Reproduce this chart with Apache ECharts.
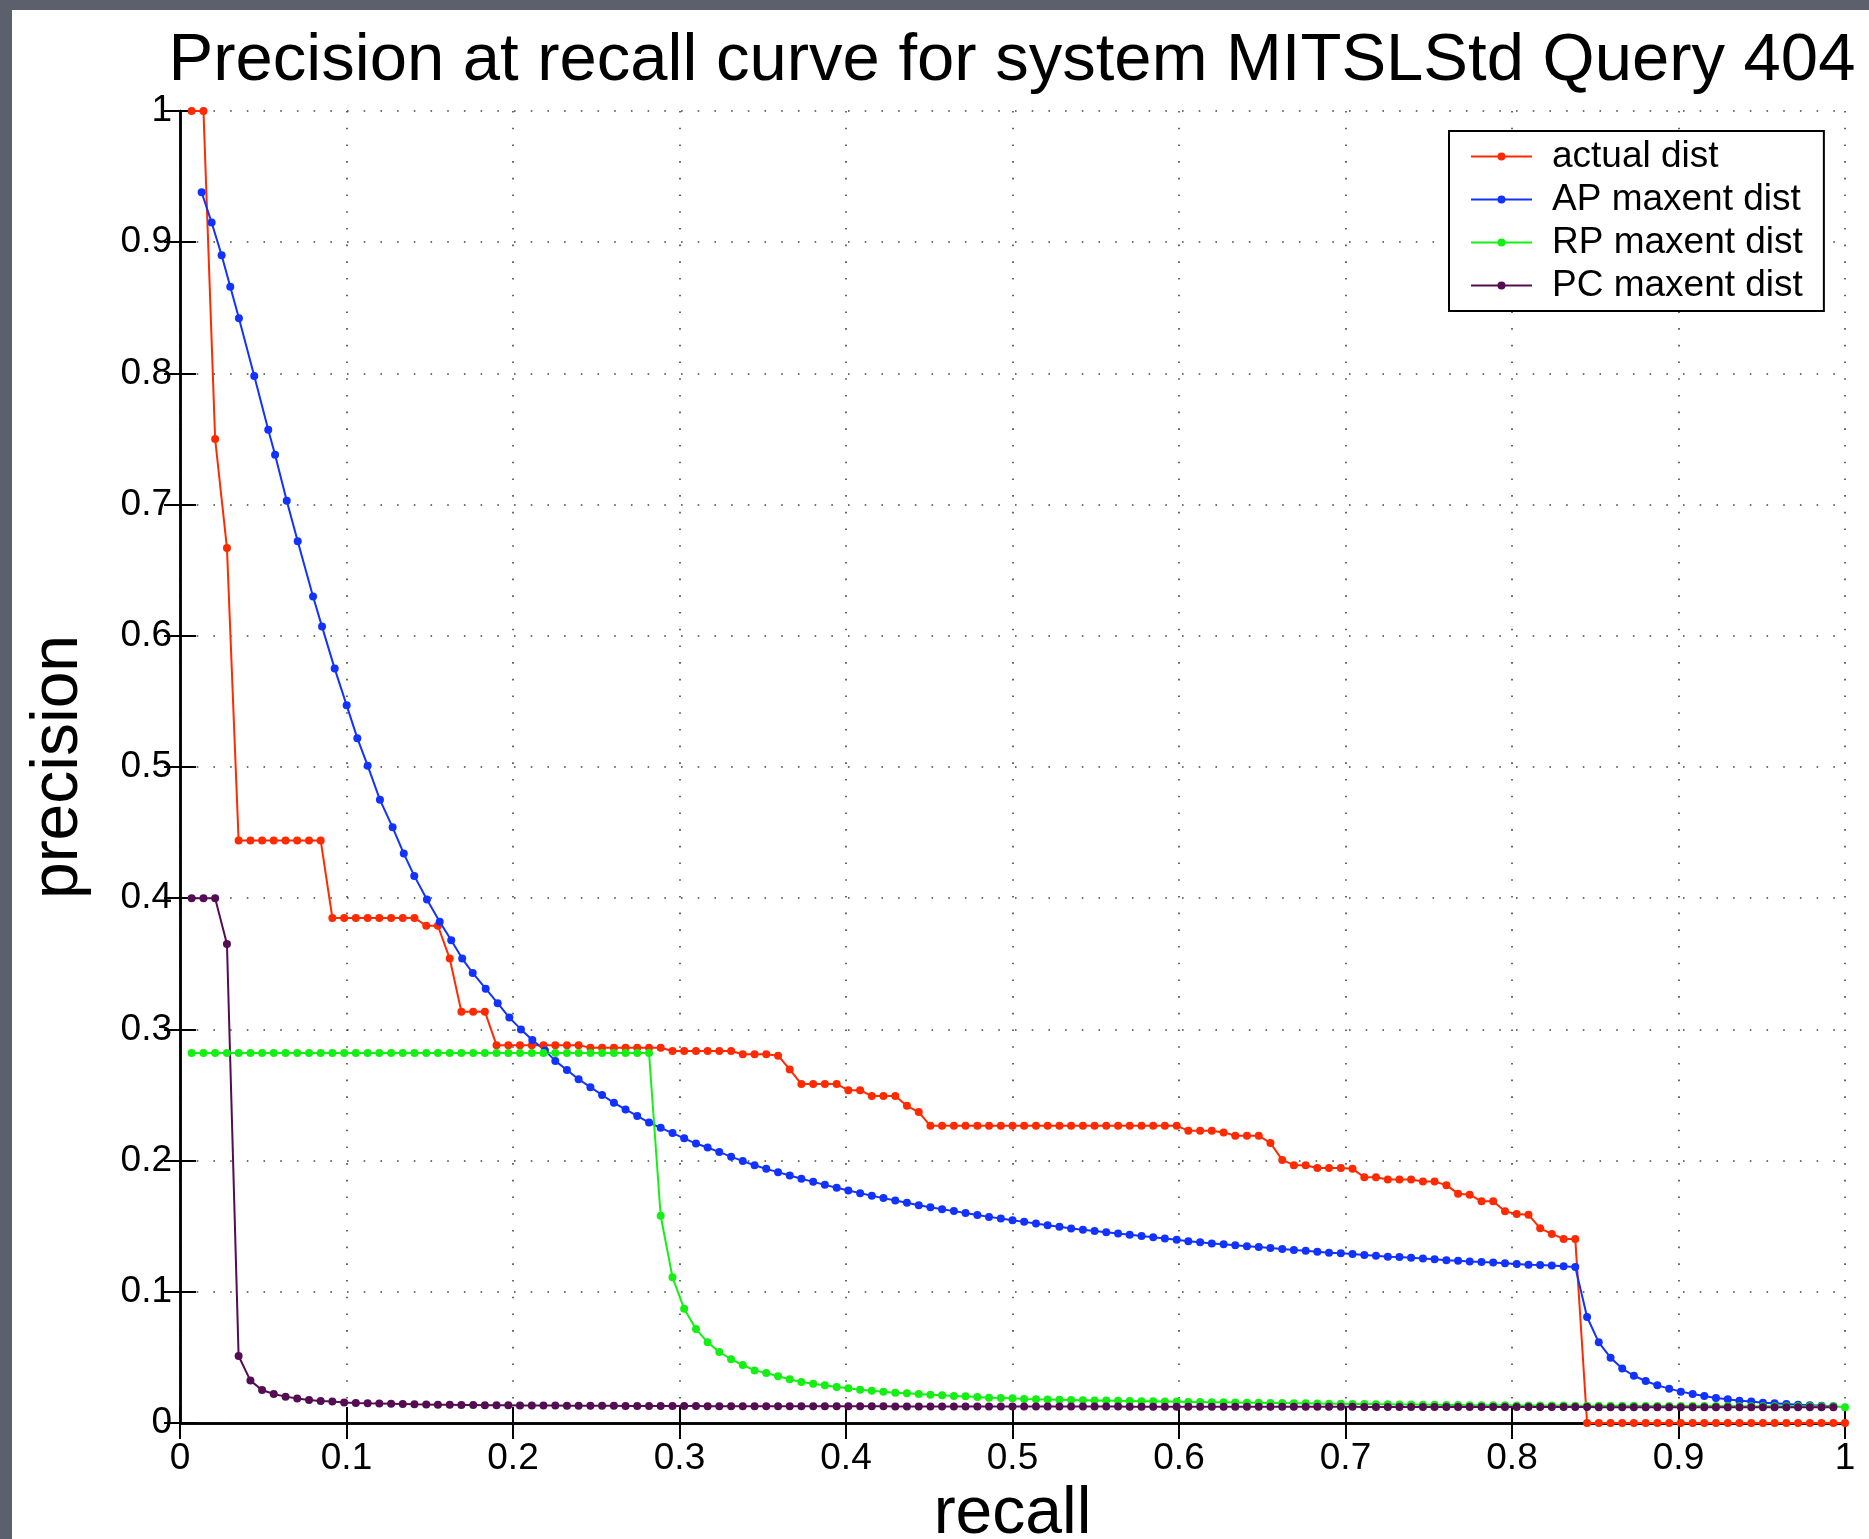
<!DOCTYPE html>
<html>
<head>
<meta charset="utf-8">
<script src="https://cdn.jsdelivr.net/npm/echarts@6/dist/echarts.min.js"></script>
<style>
  html, body { margin: 0; padding: 0; background: #5c606c; }
  #panel { position: absolute; left: 12px; top: 10px; right: 0; bottom: 0; background: #fff; }
  #main { position: absolute; left: 0; top: 0; width: 1869px; height: 1539px; }
</style>
</head>
<body>
<div id="panel"></div>
<div id="main"></div>
<script>
var FONT = "'Liberation Sans', Arial, Helvetica, sans-serif";

// recall levels (k / 142 relevant docs)
var recall = [
  0.0070, 0.0141, 0.0211, 0.0282, 0.0352, 0.0423, 0.0493, 0.0563, 0.0634, 0.0704,
  0.0775, 0.0845, 0.0915, 0.0986, 0.1056, 0.1127, 0.1197, 0.1268, 0.1338, 0.1408,
  0.1479, 0.1549, 0.1620, 0.1690, 0.1761, 0.1831, 0.1901, 0.1972, 0.2042, 0.2113,
  0.2183, 0.2254, 0.2324, 0.2394, 0.2465, 0.2535, 0.2606, 0.2676, 0.2746, 0.2817,
  0.2887, 0.2958, 0.3028, 0.3099, 0.3169, 0.3239, 0.3310, 0.3380, 0.3451, 0.3521,
  0.3592, 0.3662, 0.3732, 0.3803, 0.3873, 0.3944, 0.4014, 0.4085, 0.4155, 0.4225,
  0.4296, 0.4366, 0.4437, 0.4507, 0.4577, 0.4648, 0.4718, 0.4789, 0.4859, 0.4930,
  0.5000, 0.5070, 0.5141, 0.5211, 0.5282, 0.5352, 0.5423, 0.5493, 0.5563, 0.5634,
  0.5704, 0.5775, 0.5845, 0.5915, 0.5986, 0.6056, 0.6127, 0.6197, 0.6268, 0.6338,
  0.6408, 0.6479, 0.6549, 0.6620, 0.6690, 0.6761, 0.6831, 0.6901, 0.6972, 0.7042,
  0.7113, 0.7183, 0.7254, 0.7324, 0.7394, 0.7465, 0.7535, 0.7606, 0.7676, 0.7746,
  0.7817, 0.7887, 0.7958, 0.8028, 0.8099, 0.8169, 0.8239, 0.8310, 0.8380, 0.8451,
  0.8521, 0.8592, 0.8662, 0.8732, 0.8803, 0.8873, 0.8944, 0.9014, 0.9085, 0.9155,
  0.9225, 0.9296, 0.9366, 0.9437, 0.9507, 0.9577, 0.9648, 0.9718, 0.9789, 0.9859,
  0.9930, 1.0000
];

var actualDist = [
  1, 1, 0.75, 0.667,
  0.444, 0.444, 0.444, 0.444, 0.444, 0.444, 0.444, 0.444,
  0.385, 0.385, 0.385, 0.385, 0.385, 0.385, 0.385, 0.385,
  0.379, 0.379, 0.354, 0.3135, 0.3135, 0.3135,
  0.288, 0.288, 0.288, 0.288, 0.288, 0.288, 0.288, 0.288,
  0.286, 0.286, 0.286, 0.286, 0.286, 0.286, 0.286,
  0.2835, 0.2835, 0.2835, 0.2835, 0.2835, 0.2835,
  0.281, 0.281, 0.281, 0.280, 0.2695,
  0.2583, 0.2583, 0.2583, 0.2583, 0.2537, 0.2537,
  0.2492, 0.2492, 0.2492, 0.2418, 0.237,
  0.2265, 0.2265, 0.2265, 0.2265, 0.2265, 0.2265, 0.2265, 0.2265, 0.2265, 0.2265, 0.2265,
  0.2265, 0.2265, 0.2265, 0.2265, 0.2265, 0.2265, 0.2265, 0.2265, 0.2265, 0.2265, 0.2265,
  0.2228, 0.2228, 0.2228, 0.2215, 0.219, 0.219, 0.219, 0.2134, 0.2005,
  0.1965, 0.1965, 0.1944, 0.1944, 0.1944, 0.1937, 0.1873, 0.1873,
  0.1856, 0.1856, 0.1856, 0.184, 0.184, 0.1813, 0.1748, 0.174, 0.169, 0.169,
  0.1614, 0.1593, 0.1588, 0.1484, 0.1441, 0.1403, 0.1403,
  0, 0, 0, 0, 0, 0, 0, 0, 0, 0, 0, 0, 0, 0, 0, 0, 0, 0, 0, 0, 0, 0, 0
];

// AP maxent points: the first ones sit off the recall grid
var apRecallHead = [
  0.0130, 0.0190, 0.0250, 0.0302, 0.0354, 0.0446, 0.0530, 0.0571, 0.0641, 0.0707,
  0.0799, 0.0853, 0.0929, 0.1001, 0.1065, 0.1127, 0.1201, 0.1277, 0.1344, 0.1407,
  0.1483, 0.1560, 0.1629, 0.1695, 0.1758, 0.1836, 0.1908, 0.1978, 0.2048, 0.2116,
  0.2192
];
var apMaxent = [
  0.938, 0.915, 0.890, 0.866, 0.842, 0.798, 0.757, 0.738, 0.703, 0.672,
  0.630, 0.607, 0.575, 0.547, 0.522, 0.501, 0.475, 0.454, 0.434, 0.417,
  0.399, 0.382, 0.368, 0.354, 0.343, 0.331, 0.320, 0.309, 0.300, 0.292,
  0.284,
  0.276, 0.269, 0.262, 0.256, 0.250, 0.244, 0.239, 0.234, 0.229,
  0.225, 0.221, 0.217, 0.213, 0.210, 0.2065, 0.203, 0.1996, 0.1965, 0.1937,
  0.1912, 0.1886, 0.1861, 0.1838, 0.1815, 0.1793, 0.1772, 0.1752, 0.1732, 0.1714,
  0.1696, 0.1678, 0.166, 0.1645, 0.163, 0.1615, 0.16, 0.1585, 0.1571, 0.1558,
  0.1545, 0.1533, 0.1521, 0.1508, 0.1496, 0.1483, 0.1473, 0.1463, 0.1453, 0.1445,
  0.1435, 0.1425, 0.1415, 0.1407, 0.1397, 0.1386, 0.1377, 0.1369, 0.1362, 0.1354,
  0.1348, 0.1341, 0.1334, 0.1326, 0.1318, 0.1313, 0.1306, 0.1298, 0.1293, 0.1288,
  0.128, 0.1274, 0.1268, 0.1265, 0.1259, 0.1253, 0.1248, 0.1241, 0.1236, 0.1231,
  0.1227, 0.1224, 0.1217, 0.1212, 0.1207, 0.1204, 0.12, 0.1194, 0.1189, 0.0808,
  0.0615, 0.0498, 0.0415, 0.036, 0.032, 0.0287, 0.0262, 0.0239, 0.0221, 0.0206,
  0.0191, 0.0181, 0.017, 0.0163, 0.0155, 0.015, 0.0145, 0.014, 0.0135, 0.0132,
  0.0127
];

var rpMaxent = [
  0.282, 0.282, 0.282, 0.282, 0.282, 0.282, 0.282, 0.282, 0.282, 0.282,
  0.282, 0.282, 0.282, 0.282, 0.282, 0.282, 0.282, 0.282, 0.282, 0.282,
  0.282, 0.282, 0.282, 0.282, 0.282, 0.282, 0.282, 0.282, 0.282, 0.282,
  0.282, 0.282, 0.282, 0.282, 0.282, 0.282, 0.282, 0.282, 0.282, 0.282,
  0.158, 0.111, 0.087, 0.0717, 0.0615, 0.0542, 0.0486, 0.0442, 0.0401, 0.0381,
  0.0356, 0.0333, 0.0313, 0.0300, 0.0287, 0.0274, 0.0264, 0.0254, 0.0246, 0.0239,
  0.0231, 0.0226, 0.0221, 0.0216, 0.0211, 0.0206, 0.0203, 0.0198, 0.0193, 0.0191,
  0.0188, 0.0183, 0.0181, 0.0180, 0.0178, 0.0176, 0.0174, 0.0172, 0.0171, 0.0169,
  0.0168, 0.0166, 0.0165, 0.0164, 0.0163, 0.0161, 0.0160, 0.0159, 0.0158, 0.0156,
  0.0155, 0.0154, 0.0153, 0.0152, 0.0151, 0.0150, 0.0148, 0.0147, 0.0146, 0.0145,
  0.0144, 0.0143, 0.0142, 0.0141, 0.0141, 0.0140, 0.0139, 0.0138, 0.0137, 0.0136,
  0.0136, 0.0135, 0.0135, 0.0134, 0.0134, 0.0133, 0.0133, 0.0133, 0.0132, 0.0132,
  0.0132, 0.0131, 0.0131, 0.0131, 0.0130, 0.0130, 0.0130, 0.0130, 0.0129, 0.0129,
  0.0129, 0.0129, 0.0128, 0.0128, 0.0128, 0.0128, 0.0128, 0.0127, 0.0127, 0.0127,
  0.0127, 0.0120
];

var pcMaxent = [
  0.40, 0.40, 0.40, 0.365, 0.0511, 0.0323, 0.0252, 0.0221, 0.0201, 0.0186,
  0.0175, 0.0168, 0.0163, 0.0157, 0.0153, 0.0150, 0.0148, 0.0146, 0.0144, 0.0142,
  0.0141, 0.0140, 0.0139, 0.0138, 0.0137, 0.0136, 0.0135, 0.0135, 0.0134, 0.0134,
  0.0133, 0.0133, 0.0132, 0.0132, 0.0131, 0.0131, 0.0131, 0.0130, 0.0130, 0.0130,
  0.0129, 0.0129, 0.0129, 0.0129, 0.0128, 0.0128, 0.0128, 0.0128, 0.0128, 0.0127,
  0.0127, 0.0127, 0.0127, 0.0127, 0.0127, 0.0127, 0.0127, 0.0127, 0.0127, 0.0127,
  0.0126, 0.0126, 0.0126, 0.0126, 0.0126, 0.0126, 0.0126, 0.0126, 0.0126, 0.0126,
  0.0125, 0.0125, 0.0125, 0.0125, 0.0125, 0.0125, 0.0125, 0.0125, 0.0125, 0.0125,
  0.0124, 0.0124, 0.0124, 0.0124, 0.0124, 0.0124, 0.0124, 0.0124, 0.0124, 0.0124,
  0.0123, 0.0123, 0.0123, 0.0123, 0.0123, 0.0123, 0.0123, 0.0123, 0.0123, 0.0123,
  0.0122, 0.0122, 0.0122, 0.0122, 0.0122, 0.0122, 0.0122, 0.0122, 0.0122, 0.0122,
  0.0121, 0.0121, 0.0121, 0.0121, 0.0121, 0.0121, 0.0121, 0.0121, 0.0121, 0.0121,
  0.0120, 0.0120, 0.0120, 0.0120, 0.0120, 0.0120, 0.0120, 0.0120, 0.0120, 0.0120,
  0.0120, 0.0120, 0.0120, 0.0120, 0.0120, 0.0120, 0.0120, 0.0120, 0.0120, 0.0120,
  0.0120
];

var apRecall = apRecallHead.concat(recall.slice(31, 141));

function pairs(xs, ys) {
  return ys.map(function (y, i) { return [xs[i], y]; });
}

function lineSeries(name, color, data) {
  return {
    name: name,
    type: 'line',
    data: data,
    symbol: 'circle',
    symbolSize: 8,
    showSymbol: true,
    showAllSymbol: true,
    clip: false,
    lineStyle: { color: color, width: 2 },
    itemStyle: { color: color },
    emphasis: { disabled: true }
  };
}

var chartDom = document.getElementById('main');
var myChart = echarts.init(chartDom);
var option;

var gridDots = { color: '#444', width: 1.6, type: [1.6, 15.1] };

option = {
  animation: false,
  backgroundColor: 'transparent',
  textStyle: { fontFamily: FONT },
  title: {
    text: 'Precision at recall curve for system MITSLStd Query 404',
    left: 1012,
    top: 28,
    padding: 0,
    textAlign: 'center',
    textStyle: { fontFamily: FONT, fontSize: 67, fontWeight: 'normal', color: '#000' }
  },
  legend: {
    orient: 'vertical',
    left: 1449,
    top: 131,
    padding: [4, 21, 4, 21],
    itemGap: 0,
    itemWidth: 61,
    itemHeight: 10,
    borderColor: '#000',
    borderWidth: 2,
    backgroundColor: '#fff',
    selectedMode: false,
    textStyle: { fontFamily: FONT, fontSize: 37, lineHeight: 43, color: '#000', padding: [0, 0, 0, 15] },
    data: ['actual dist', 'AP maxent dist', 'RP maxent dist', 'PC maxent dist']
  },
  grid: { left: 180, right: 24, top: 111, bottom: 116, outerBoundsMode: 'none' },
  xAxis: [
    {
      type: 'value', min: 0, max: 1, interval: 0.1,
      name: 'recall', nameLocation: 'middle', nameGap: 41,
      nameTextStyle: { fontFamily: FONT, fontSize: 66, color: '#000' },
      axisLine: { lineStyle: { color: '#000', width: 2.5 } },
      axisTick: { inside: true, length: 16, lineStyle: { color: '#000', width: 2 } },
      axisLabel: { fontFamily: FONT, fontSize: 37, color: '#000', margin: 17 },
      splitLine: { show: true, lineStyle: gridDots }
    },
    {
      type: 'value', min: 0, max: 1, interval: 0.1, position: 'top',
      axisLine: { lineStyle: { color: '#000', width: 2.5 } },
      axisTick: { inside: true, length: 16, lineStyle: { color: '#000', width: 2 } },
      axisLabel: { show: false },
      splitLine: { show: false }
    }
  ],
  yAxis: [
    {
      type: 'value', min: 0, max: 1, interval: 0.1,
      name: 'precision', nameLocation: 'middle', nameGap: 88,
      nameTextStyle: { fontFamily: FONT, fontSize: 66, color: '#000' },
      axisLine: { show: true, lineStyle: { color: '#000', width: 2.5 } },
      axisTick: { show: true, inside: true, length: 16, lineStyle: { color: '#000', width: 2 } },
      axisLabel: { fontFamily: FONT, fontSize: 37, color: '#000', margin: 8 },
      splitLine: { show: true, lineStyle: gridDots }
    },
    {
      type: 'value', min: 0, max: 1, interval: 0.1, position: 'right',
      axisLine: { show: true, lineStyle: { color: '#000', width: 2.5 } },
      axisTick: { show: true, inside: true, length: 16, lineStyle: { color: '#000', width: 2 } },
      axisLabel: { show: false },
      splitLine: { show: false }
    }
  ],
  series: [
    lineSeries('actual dist', '#ff2a00', pairs(recall, actualDist)),
    lineSeries('AP maxent dist', '#1232ff', pairs(apRecall, apMaxent)),
    lineSeries('RP maxent dist', '#14f014', pairs(recall, rpMaxent)),
    lineSeries('PC maxent dist', '#540c52', pairs(recall, pcMaxent))
  ]
};

option && myChart.setOption(option);
</script>
</body>
</html>
